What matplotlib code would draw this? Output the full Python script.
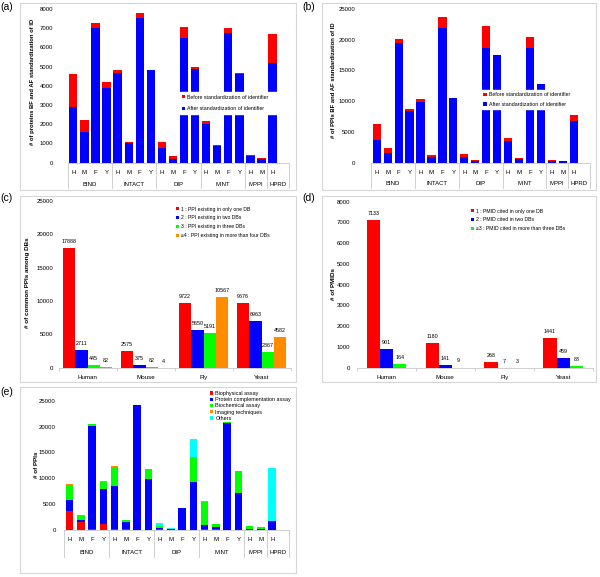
import numpy as np
import matplotlib
matplotlib.use('Agg')
import matplotlib.pyplot as plt
from matplotlib.patches import Rectangle

plt.rcParams['font.family'] = ['Liberation Sans', 'DejaVu Sans']

# ---- data ----
sub_labels = ['H', 'M', 'F', 'Y'] * 4 + ['H', 'M', 'H']
db_groups = ['BIND', 'INTACT', 'DIP', 'MINT', 'MPPI', 'HPRD']
group_slots = [4, 4, 4, 4, 2, 2]

# (a) proteins before / after standardization
a_before = [4640, 2220, 7290, 4200, 4840, 1080, 7800, 4830, 1060, 350, 7070, 4970,
            2170, 900, 7030, 4650, 400, 260, 6680]
a_after = [2880, 1580, 7010, 3910, 4650, 1010, 7520, 4820, 780, 190, 6510, 4900,
           2030, 870, 6740, 4620, 360, 210, 5170]

# (b) PPIs before / after standardization
b_before = [6240, 2440, 20200, 8780, 10300, 1190, 23700, 10500, 1410, 430, 22300, 17570,
            4010, 810, 20500, 12850, 400, 300, 7750]
b_after = [3690, 1520, 19500, 8350, 9870, 980, 21960, 10500, 980, 200, 18650, 17460,
           3580, 650, 18700, 12850, 350, 280, 6830]

species = ['Human', 'Mouse', 'Fly', 'Yeast']

# (c) common PPIs among DBs
c_one = [17888, 2575, 9722, 9676]
c_two = [2711, 375, 5650, 6963]
c_three = [445, 82, 5191, 2367]
c_four = [82, 4, 10567, 4582]
c_names = ['1 : PPI existing in only one DB', '2 : PPI existing in two DBs',
           '3 : PPI existing in three DBs', '\u22654 : PPI existing in more than four DBs']

# (d) PMIDs
d_one = [7133, 1180, 268, 1441]
d_two = [901, 141, 7, 459]
d_three = [164, 9, 3, 88]
d_names = ['1 : PMID cited in only one DB', '2 : PMID cited in two DBs',
           '\u22653 : PMID cited in more than three DBs']

# (e) PPIs by detection method
e_biophys = [3600, 1400, 100, 1150, 200, 50, 0, 0, 80, 0, 0, 0, 150, 100, 0, 0, 0, 0, 0]
e_protcomp = [2200, 450, 20100, 6850, 8200, 1350, 24200, 9800, 270, 100, 4250, 9300,
              750, 480, 20700, 7100, 150, 150, 1680]
e_biochem = [2850, 900, 250, 1300, 3800, 400, 0, 1950, 350, 100, 0, 4800,
             4400, 520, 150, 4350, 630, 370, 0]
e_imaging = [200, 50, 0, 130, 130, 80, 0, 50, 0, 0, 0, 0, 250, 0, 0, 0, 0, 0, 0]
e_others = [0, 0, 0, 0, 0, 0, 0, 0, 600, 150, 0, 3500, 0, 0, 0, 0, 0, 0, 10220]
e_names = ['Biophysical assay', 'Protein complementation assay', 'Biochemical assay',
           'Imaging techniques', 'Others']

RED, BLUE, GREEN, ORANGE, CYAN = '#ff0000', '#0000ff', '#00ff00', '#ff8c00', '#00ffff'
GRAY = '#c8c8c8'

W, H = 600, 577
fig = plt.figure(figsize=(6, 5.77), dpi=100)


def px_axes(x0, y0, x1, y1):
    ax = fig.add_axes([x0 / W, 1 - y1 / H, (x1 - x0) / W, (y1 - y0) / H])
    for s in ['top', 'right', 'left']:
        ax.spines[s].set_visible(False)
    ax.spines['bottom'].set_color(GRAY)
    ax.spines['bottom'].set_linewidth(0.6)
    ax.patch.set_alpha(0)
    return ax


def box(x0, y0, x1, y1):
    fig.patches.append(Rectangle((x0 / W, 1 - y1 / H), (x1 - x0) / W, (y1 - y0) / H,
                                 transform=fig.transFigure, fill=False,
                                 edgecolor='#d6d6d6', lw=0.8))


def ftext(x, y, s, **kw):
    fig.text(x / W, 1 - y / H, s, **kw)


def db_axis(ax, ax_h, sub_px, grp_px, div_px):
    xs = np.arange(len(sub_labels))
    bounds = np.concatenate([[-0.5], -0.5 + np.cumsum(group_slots)])
    ax.set_xlim(bounds[0], bounds[-1])
    ax.set_xticks([])
    for b in bounds:
        ax.plot([b, b], [0, -div_px / ax_h], transform=ax.get_xaxis_transform(),
                color=GRAY, lw=0.6, clip_on=False)
    for xi, s in zip(xs, sub_labels):
        ax.annotate(s, (xi, 0), xycoords=('data', 'axes fraction'),
                    xytext=(0, -sub_px * 0.72), textcoords='offset points',
                    ha='center', va='center', fontsize=4.3)
    for g, c in zip(db_groups, (bounds[:-1] + bounds[1:]) / 2):
        ax.annotate(g, (c, 0), xycoords=('data', 'axes fraction'),
                    xytext=(0, -grp_px * 0.72), textcoords='offset points',
                    ha='center', va='center', fontsize=4.3)


# ---------- (a) ----------
box(20, 3, 296, 190)
axa = px_axes(67.8, 9, 289.2, 162.7)
xa = np.arange(len(a_after))
axa.bar(xa, np.array(a_before) - np.array(a_after), 0.75, bottom=a_after, color=RED,
        label='Before standardization of identifier')
axa.bar(xa, a_after, 0.75, color=BLUE, label='After standardization of identifier')
axa.set_ylim(0, 8000)
axa.set_yticks(range(0, 8001, 1000))
axa.tick_params(axis='y', length=0, pad=10.4, labelsize=4.3)
db_axis(axa, 153.7, 9.6, 21.3, 25.5)
axa.legend(loc='upper left', bbox_to_anchor=(180 / W, 1 - 93 / H, 105 / W, 0.001),
           bbox_transform=fig.transFigure, mode='expand', fontsize=3.8,
           handlelength=0.6, handleheight=0.6, handletextpad=0.4, labelspacing=1.3,
           borderpad=0.4, frameon=True, facecolor='white', edgecolor='white',
           framealpha=1, fancybox=False, borderaxespad=0)
ftext(33, 82, '# of proteins BF and AF standardization of ID', rotation=90,
      fontsize=4.2, fontweight='bold', ha='center', va='center')
ftext(0, 7, '(a)', fontsize=7.5, ha='left', va='center')

# ---------- (b) ----------
box(322, 3, 596, 190)
axb = px_axes(371.3, 9, 590.1, 162.7)
xb = np.arange(len(b_after))
axb.bar(xb, np.array(b_before) - np.array(b_after), 0.75, bottom=b_after, color=RED,
        label='Before standardization of identifier')
axb.bar(xb, b_after, 0.75, color=BLUE, label='After standardization of identifier')
axb.set_ylim(0, 25000)
axb.set_yticks(range(0, 25001, 5000))
axb.tick_params(axis='y', length=0, pad=11.7, labelsize=4.3)
db_axis(axb, 153.7, 9.6, 21.0, 25.5)
axb.legend(loc='upper left', bbox_to_anchor=(481 / W, 1 - 90.5 / H, 95 / W, 0.001),
           bbox_transform=fig.transFigure, mode='expand', fontsize=3.8,
           handlelength=0.6, handleheight=0.6, handletextpad=0.4, labelspacing=0.85,
           borderpad=0.45, frameon=True, facecolor='white', edgecolor='white',
           framealpha=1, fancybox=False, borderaxespad=0)
ftext(333, 80, '# of PPIs BF and AF standardization of ID', rotation=90,
      fontsize=4.2, fontweight='bold', ha='center', va='center')
ftext(302, 7, '(b)', fontsize=7.5, ha='left', va='center')


def species_axis(ax, pad):
    ax.set_xlim(-0.5, 3.5)
    ax.set_xticks(range(4))
    ax.set_xticklabels(species, fontsize=4.5)
    ax.set_xticks(np.arange(-0.5, 4, 1), minor=True)
    ax.tick_params(axis='x', which='major', length=0, pad=pad)
    ax.tick_params(axis='x', which='minor', length=2.5, color=GRAY, width=0.6)


def value_labels(ax, xs, vals):
    for xi, v in zip(xs, vals):
        ax.annotate(str(v), (xi, v), xytext=(0, 4.7), textcoords='offset points',
                    ha='center', va='center', fontsize=3.9)


# ---------- (c) ----------
box(20, 196, 296, 382)
axc = px_axes(58.5, 201, 290.5, 367.7)
xs = np.arange(4)
bw = 0.21
for i, (vals, col, name) in enumerate(zip([c_one, c_two, c_three, c_four],
                                          [RED, BLUE, GREEN, ORANGE], c_names)):
    pos = xs + (i - 1.5) * bw
    axc.bar(pos, vals, bw, color=col, label=name)
    value_labels(axc, pos, vals)
axc.set_ylim(0, 25000)
axc.set_yticks(range(0, 25001, 5000))
axc.tick_params(axis='y', length=0, pad=3.7, labelsize=4.3)
species_axis(axc, 5.5)
axc.legend(loc='upper left', bbox_to_anchor=(175.7 / W, 1 - 206.5 / H),
           bbox_transform=fig.transFigure, fontsize=3.7, handlelength=0.6,
           handleheight=0.6, handletextpad=0.4, labelspacing=0.75, borderpad=0,
           frameon=False, borderaxespad=0)
ftext(28, 283, '# of common PPIs among DBs', rotation=90, fontsize=4.5,
      fontweight='bold', ha='center', va='center')
ftext(0, 198, '(c)', fontsize=7.5, ha='left', va='center')

# ---------- (d) ----------
box(322, 196, 596, 382)
axd = px_axes(357, 201.7, 592.6, 367.7)
bw = 0.224
for i, (vals, col, name) in enumerate(zip([d_one, d_two, d_three],
                                          [RED, BLUE, GREEN], d_names)):
    pos = xs + (i - 1) * bw
    axd.bar(pos, vals, bw, color=col, label=name)
    value_labels(axd, pos, vals)
axd.set_ylim(0, 8000)
axd.set_yticks(range(0, 8001, 1000))
axd.tick_params(axis='y', length=0, pad=5, labelsize=4.3)
species_axis(axd, 5.5)
axd.legend(loc='upper left', bbox_to_anchor=(470.7 / W, 1 - 208.5 / H),
           bbox_transform=fig.transFigure, fontsize=3.7, handlelength=0.6,
           handleheight=0.6, handletextpad=0.4, labelspacing=0.75, borderpad=0,
           frameon=False, borderaxespad=0)
ftext(333, 284, '# of PMIDs', rotation=90, fontsize=4.5,
      fontweight='bold', ha='center', va='center')
ftext(302, 198, '(d)', fontsize=7.5, ha='left', va='center')

# ---------- (e) ----------
box(20, 387, 296, 573)
axe = px_axes(64.1, 401, 289.1, 529.7)
xe = np.arange(len(e_protcomp))
bottom = np.zeros(len(xe))
for vals, col, name in zip([e_biophys, e_protcomp, e_biochem, e_imaging, e_others],
                           [RED, BLUE, GREEN, ORANGE, CYAN], e_names):
    axe.bar(xe, vals, 0.67, bottom=bottom, color=col, label=name)
    bottom += np.array(vals)
axe.set_ylim(0, 25000)
axe.set_yticks(range(0, 25001, 5000))
axe.tick_params(axis='y', length=0, pad=6, labelsize=4.3)
db_axis(axe, 128.7, 9.6, 23.0, 27)
axe.legend(loc='upper left', bbox_to_anchor=(210 / W, 1 - 391 / H),
           bbox_transform=fig.transFigure, fontsize=3.9, handlelength=0.6,
           handleheight=0.6, handletextpad=0.4, labelspacing=0.22, borderpad=0,
           frameon=False, borderaxespad=0)
ftext(36, 465, '# of PPIs', rotation=90, fontsize=4.5,
      fontweight='bold', ha='center', va='center')
ftext(0, 392, '(e)', fontsize=7.5, ha='left', va='center')

fig.savefig('out.png', dpi=100)
